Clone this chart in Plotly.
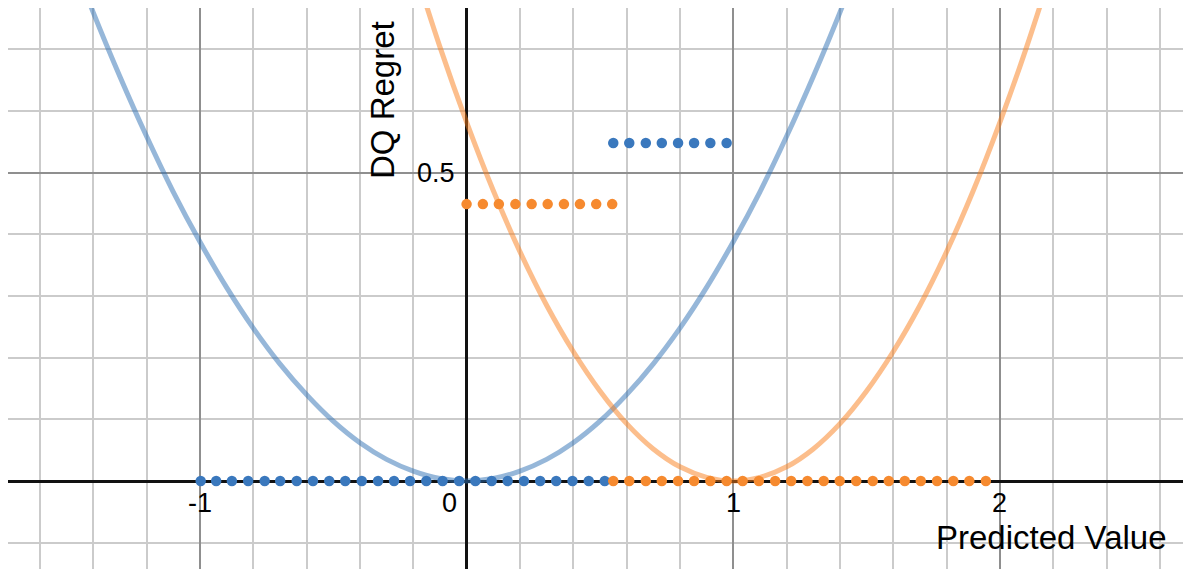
import plotly.graph_objects as go

# Curves
curve_blue_x = [-1.5, -1.4, -1.3, -1.2, -1.1, -1.0, -0.9, -0.8, -0.7, -0.6, -0.5, -0.4, -0.3, -0.2, -0.1, 0.0,
                0.1, 0.2, 0.3, 0.4, 0.5, 0.6, 0.7, 0.8, 0.9, 1.0, 1.1, 1.2, 1.3, 1.4, 1.5]
curve_blue_y = [0.873, 0.760, 0.656, 0.559, 0.469, 0.388, 0.314, 0.248, 0.190, 0.140, 0.097, 0.062, 0.035, 0.016, 0.004, 0.0,
                0.004, 0.016, 0.035, 0.062, 0.097, 0.140, 0.190, 0.248, 0.314, 0.388, 0.469, 0.559, 0.656, 0.760, 0.873]

curve_orange_x = [-0.2, -0.1, 0.0, 0.1, 0.2, 0.3, 0.4, 0.5, 0.6, 0.7, 0.8, 0.9, 1.0,
                  1.1, 1.2, 1.3, 1.4, 1.5, 1.6, 1.7, 1.8, 1.9, 2.0, 2.1, 2.2]
curve_orange_y = [0.838, 0.704, 0.582, 0.471, 0.372, 0.285, 0.210, 0.146, 0.093, 0.052, 0.023, 0.006, 0.0,
                  0.006, 0.023, 0.052, 0.093, 0.146, 0.210, 0.285, 0.372, 0.471, 0.582, 0.704, 0.838]

# Dots
blue_low_x = [-0.997, -0.939, -0.880, -0.819, -0.757, -0.699, -0.637, -0.576, -0.515, -0.455, -0.393, -0.332, -0.272,
              -0.212, -0.151, -0.090, -0.028, 0.033, 0.094, 0.154, 0.215, 0.276, 0.336, 0.397, 0.458, 0.518]
blue_low_y = [0.0] * len(blue_low_x)
blue_high_x = [0.550, 0.610, 0.672, 0.732, 0.793, 0.853, 0.914, 0.975]
blue_high_y = [0.548] * len(blue_high_x)

orange_high_x = [0.0, 0.061, 0.121, 0.183, 0.244, 0.304, 0.365, 0.425, 0.486, 0.546]
orange_high_y = [0.449] * len(orange_high_x)
orange_low_x = [0.550, 0.610, 0.672, 0.732, 0.793, 0.853, 0.914, 0.975, 1.035, 1.096, 1.157, 1.217,
                1.278, 1.339, 1.399, 1.461, 1.523, 1.583, 1.643, 1.703, 1.764, 1.825, 1.885, 1.947]
orange_low_y = [0.0] * len(orange_low_x)

x_tick_vals = [-1, 0, 1, 2]
x_tick_text = ["-1", "0", "1", "2"]
y_tick_vals = [0.5]
y_tick_text = ["0.5"]

FONT = "Liberation Sans, Arial, sans-serif"
BLUE_LINE = "rgba(45,112,179,0.5)"
ORANGE_LINE = "rgba(250,126,25,0.5)"
BLUE_DOT = "#3a78bd"
ORANGE_DOT = "#f68a2f"

fig = go.Figure()
fig.add_trace(go.Scatter(x=curve_blue_x, y=curve_blue_y, mode="lines",
                         line=dict(color=BLUE_LINE, width=5, shape="spline")))
fig.add_trace(go.Scatter(x=curve_orange_x, y=curve_orange_y, mode="lines",
                         line=dict(color=ORANGE_LINE, width=5, shape="spline")))
for xs, ys, col in [(blue_low_x, blue_low_y, BLUE_DOT), (blue_high_x, blue_high_y, BLUE_DOT),
                    (orange_high_x, orange_high_y, ORANGE_DOT), (orange_low_x, orange_low_y, ORANGE_DOT)]:
    fig.add_trace(go.Scatter(x=xs, y=ys, mode="markers", cliponaxis=False,
                             marker=dict(color=col, size=10.5, line=dict(width=0))))

# tick labels next to the axes, desmos style
for v, t in zip(x_tick_vals, x_tick_text):
    fig.add_annotation(x=v, y=0, text=t, showarrow=False, yshift=-22,
                       xshift=-17 if v == 0 else 0,
                       font=dict(family=FONT, size=27, color="black"))
for v, t in zip(y_tick_vals, y_tick_text):
    fig.add_annotation(x=0, y=v, text=t, showarrow=False, xanchor="right", xshift=-10,
                       font=dict(family=FONT, size=27, color="black"))

fig.add_annotation(x=2.193, y=-0.091, text="Predicted Value", showarrow=False,
                   font=dict(family=FONT, size=33, color="black"))
fig.add_annotation(x=-0.313, y=0.618, text="DQ Regret", showarrow=False, textangle=-90,
                   font=dict(family=FONT, size=33, color="black"))

# page body has an 8px margin, so the figure is a bit smaller and the ranges start 8px in
fig.update_layout(
    width=1183, height=561,
    margin=dict(l=0, r=0, t=0, b=0),
    showlegend=False,
    plot_bgcolor="white", paper_bgcolor="white",
    xaxis=dict(range=[-1.7195, 2.7162], showticklabels=False, ticks="",
               dtick=1, tick0=0, showgrid=True, gridcolor="#8f8f8f", gridwidth=2,
               minor=dict(dtick=0.2, tick0=0, showgrid=True, gridcolor="#cbcbcb", gridwidth=2),
               zeroline=True, zerolinecolor="#111111", zerolinewidth=2.5),
    yaxis=dict(range=[-0.1427, 0.767], showticklabels=False, ticks="",
               dtick=0.5, tick0=0, showgrid=True, gridcolor="#8f8f8f", gridwidth=2,
               minor=dict(dtick=0.1, tick0=0, showgrid=True, gridcolor="#cbcbcb", gridwidth=2),
               zeroline=True, zerolinecolor="#111111", zerolinewidth=2.5),
)

fig.write_html("out.html")
